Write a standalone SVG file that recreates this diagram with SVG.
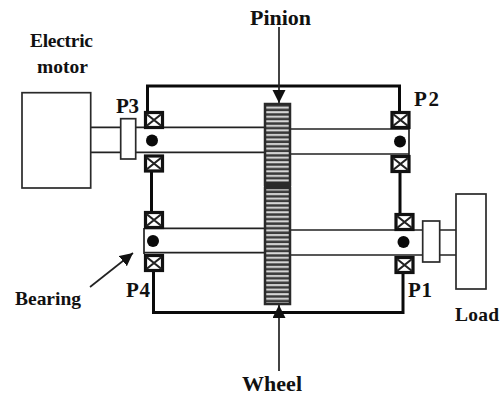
<svg xmlns="http://www.w3.org/2000/svg" width="502" height="396" viewBox="0 0 502 396">
<style>
.t{font-family:"Liberation Serif","Times New Roman",serif;font-weight:700;font-size:19.5px;fill:#111}
.l{font-size:21px}
.h{font-size:22px}
.b{fill:#fff;stroke:#2a2a2a;stroke-width:1.7}
.s{stroke:#222;stroke-width:1.7;fill:none}
.f{stroke:#0a0a0a;stroke-width:3;fill:none}
.x{fill:#fff;stroke:#111;stroke-width:3.2}
.xx{stroke:#222;stroke-width:2.2}
.a{stroke:#222;stroke-width:1.7;fill:none}
</style>
<defs>
<pattern id="teeth" width="4.55" height="4.55" patternUnits="userSpaceOnUse" y="1">
<rect width="4.55" height="4.55" fill="#3a3a3a"/><rect y="1" width="4.55" height="2" fill="#d8d8d8"/>
</pattern>
<g id="brg"><rect class="x" x="2" y="1.500" width="17" height="15"/><path class="xx" d="M3 3L18 15M18 3L3 15"/></g>
<marker id="ah" markerUnits="userSpaceOnUse" markerWidth="14" markerHeight="14" refX="13" refY="6.5" orient="auto"><path d="M0 0L13 6.5L0 13Z" fill="#111"/></marker>
</defs>
<g id="connectors">
<path class="f" d="M147.500 112V86H399.500V112"/>
<path class="f" d="M151.500 172V212M400 172V213"/>
<path class="f" d="M153.500 271V312.500H403V274"/>
<path class="a" d="M279 27V103" marker-end="url(#ah)"/>
<path class="a" d="M279 371V305" marker-end="url(#ah)"/>
<path class="a" d="M90 287L133 253" marker-end="url(#ah)"/>
</g>
<g id="upper-shaft">
<path class="s" d="M90 127.300H264M90 152.300H264M291 129H409M291 154H409M409 128V155"/>
</g>
<g id="lower-shaft">
<path class="s" d="M144 228.300H264M144 252.700H264M291 230H456M291 255H456M144 228V254"/>
</g>
<g id="electric-motor"><rect class="b" x="22" y="92.700" width="68.700" height="95.300"/>
<text class="t" x="30" y="46.500" textLength="63">Electric</text><text class="t" x="37" y="73" textLength="51">motor</text></g>
<g id="coupling-p3"><rect class="b" x="120.700" y="118.700" width="15" height="40.300"/></g>
<g id="bearing-p3"><use href="#brg" x="143.500" y="111"/><use href="#brg" x="143.500" y="154.500"/><circle cx="152" cy="140.500" r="6" fill="#0a0a0a"/>
<text class="t l" x="116" y="113" textLength="23">P3</text></g>
<g id="bearing-p2"><use href="#brg" x="390" y="111"/><use href="#brg" x="390" y="155"/><circle cx="400" cy="141.500" r="6" fill="#0a0a0a"/>
<text class="t l" x="414" y="106" textLength="25">P2</text></g>
<g id="bearing-p4"><use href="#brg" x="143.500" y="211"/><use href="#brg" x="143.500" y="254"/><circle cx="153" cy="241" r="6" fill="#0a0a0a"/>
<text class="t l" x="126" y="297" textLength="24">P4</text></g>
<g id="bearing-p1"><use href="#brg" x="394" y="213"/><use href="#brg" x="394" y="256"/><circle cx="403.500" cy="242" r="6" fill="#0a0a0a"/>
<text class="t l" x="408" y="297" textLength="24">P1</text></g>
<g id="pinion"><rect x="265" y="104" width="25" height="81" fill="url(#teeth)" stroke="#2a2a2a" stroke-width="2.500"/>
<rect x="264" y="182" width="27" height="6" fill="#2a2a2a"/>
<text class="t h" x="250" y="25" textLength="61">Pinion</text></g>
<g id="wheel"><rect x="265" y="188" width="25" height="116" fill="url(#teeth)" stroke="#2a2a2a" stroke-width="2.500"/>
<text class="t h" x="242" y="391" textLength="60">Wheel</text></g>
<g id="coupling-p1"><rect class="b" x="422.700" y="221" width="17" height="41"/></g>
<g id="load"><rect class="b" x="456" y="194" width="30" height="95"/>
<text class="t" x="455" y="320.500" textLength="44">Load</text></g>
<g id="bearing-label"><text class="t" x="15" y="304.500" textLength="66">Bearing</text></g>
</svg>
